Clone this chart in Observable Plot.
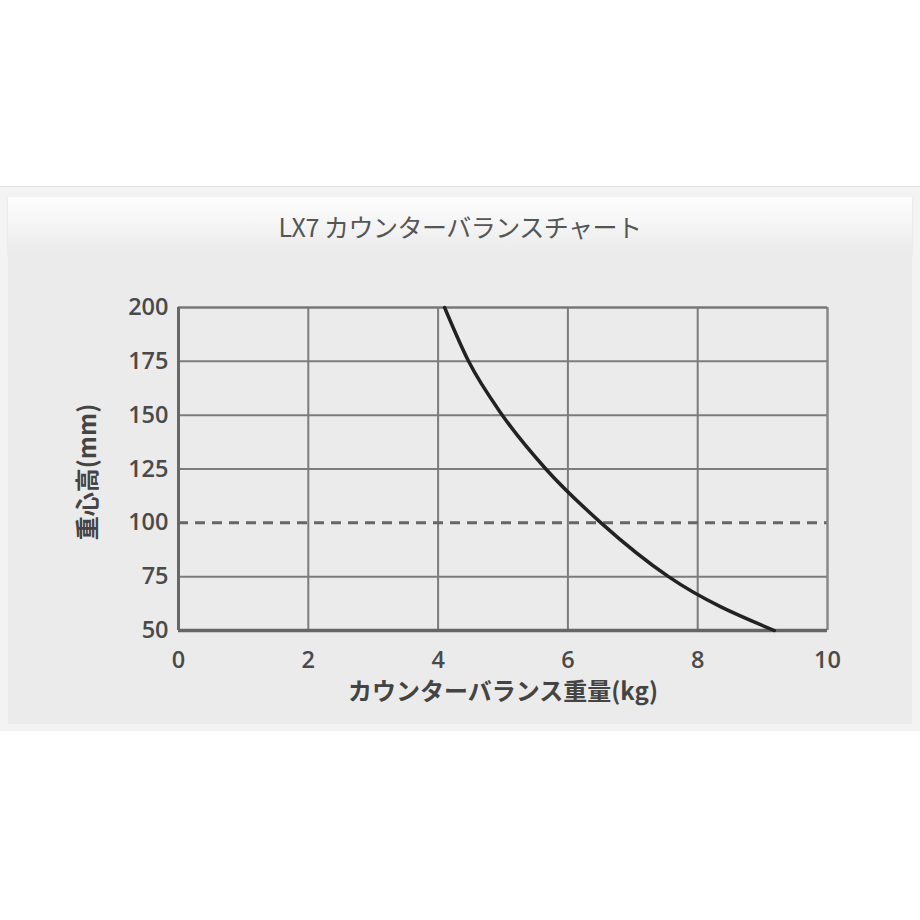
<!DOCTYPE html>
<html><head><meta charset="utf-8">
<script src="https://cdn.jsdelivr.net/npm/d3@7"></script>
<script src="https://cdn.jsdelivr.net/npm/@observablehq/plot@0.6"></script>
<style>
body{margin:0;background:#fff;width:920px;height:920px;overflow:hidden;position:relative}
#outer{position:absolute;top:186px;left:0;width:920px;height:545px;background:#f3f3f3;border-top:1px solid #e2e2e2;box-sizing:border-box}
#title{position:absolute;left:8px;top:10px;width:904px;height:58px;background:linear-gradient(#fefefe,#eaeaea);box-shadow:0 1px 2px rgba(0,0,0,0.10);font-family:"Noto Sans CJK JP";font-weight:400;font-size:25px;color:#555;display:flex;align-items:center;justify-content:center;letter-spacing:-0.5px}
#panel{position:absolute;left:8px;top:68px;width:904px;height:469px;background:#ebebeb}
svg{display:block}
</style>
</head><body>
<div id="outer">
  <div id="title">LX7 カウンターバランスチャート</div>
  <div id="panel"></div>
</div>
<script>
const titleText = "LX7 カウンターバランスチャート";
const xLabel = "カウンターバランス重量(kg)";
const yLabel = "重心高(mm)";
const xTicks = [0, 2, 4, 6, 8, 10];
const yTicks = [50, 75, 100, 125, 150, 175, 200];
const xGrid = [2, 4, 6, 8];
const yGrid = [75, 125, 150, 175];
const refHeight = [100];
// curve: counterbalance weight (kg) vs centre-of-gravity height (mm)
const weightKg = [4.10, 4.47, 4.99, 5.66, 6.51, 7.55, 9.18];
const heightMm = [200, 175, 150, 125, 100, 75, 50];

const curve = weightKg.map((x, i) => ({x, y: heightMm[i]}));

const chart = Plot.plot({
  width: 904,
  height: 469,
  marginLeft: 170,
  marginRight: 85,
  marginTop: 52,
  marginBottom: 94,
  style: {background: "transparent", fontFamily: "'Open Sans', sans-serif", fontSize: "23.5px", fontWeight: 600, color: "#4a4a4a"},
  x: {domain: [0, 10]},
  y: {domain: [50, 200]},
  marks: [
    Plot.ruleX(xGrid, {stroke: "#7c7c7c", strokeWidth: 2}),
    Plot.ruleY(yGrid, {stroke: "#7c7c7c", strokeWidth: 2}),
    Plot.ruleY(refHeight, {stroke: "#666", strokeWidth: 3, strokeDasharray: "10,7"}),
    Plot.ruleX([10], {stroke: "#888", strokeWidth: 2.5}),
    Plot.ruleY([200], {stroke: "#777", strokeWidth: 2.5}),
    Plot.ruleX([0], {stroke: "#666", strokeWidth: 3}),
    Plot.ruleY([50], {stroke: "#666", strokeWidth: 3.5}),
    Plot.line(curve, {x: "x", y: "y", curve: "monotone-x", stroke: "#222", strokeWidth: 3.5}),
    Plot.axisX({ticks: xTicks, tickSize: 0, tickPadding: 21, label: null}),
    Plot.axisY({ticks: yTicks, tickSize: 0, tickPadding: 10, label: null}),
    Plot.text([xLabel], {frameAnchor: "bottom", dy: 62, text: d => d, fontFamily: "'Noto Sans CJK JP'", fontWeight: 700, fontSize: 24, fill: "#444", textAnchor: "middle", lineAnchor: "middle"}),
    Plot.text([yLabel], {frameAnchor: "left", dx: -90, dy: 3, rotate: -90, text: d => d, fontFamily: "'Noto Sans CJK JP'", fontWeight: 700, fontSize: 24, fill: "#444", textAnchor: "middle", lineAnchor: "middle"})
  ]
});
document.getElementById("panel").appendChild(chart);
</script>
</body></html>
